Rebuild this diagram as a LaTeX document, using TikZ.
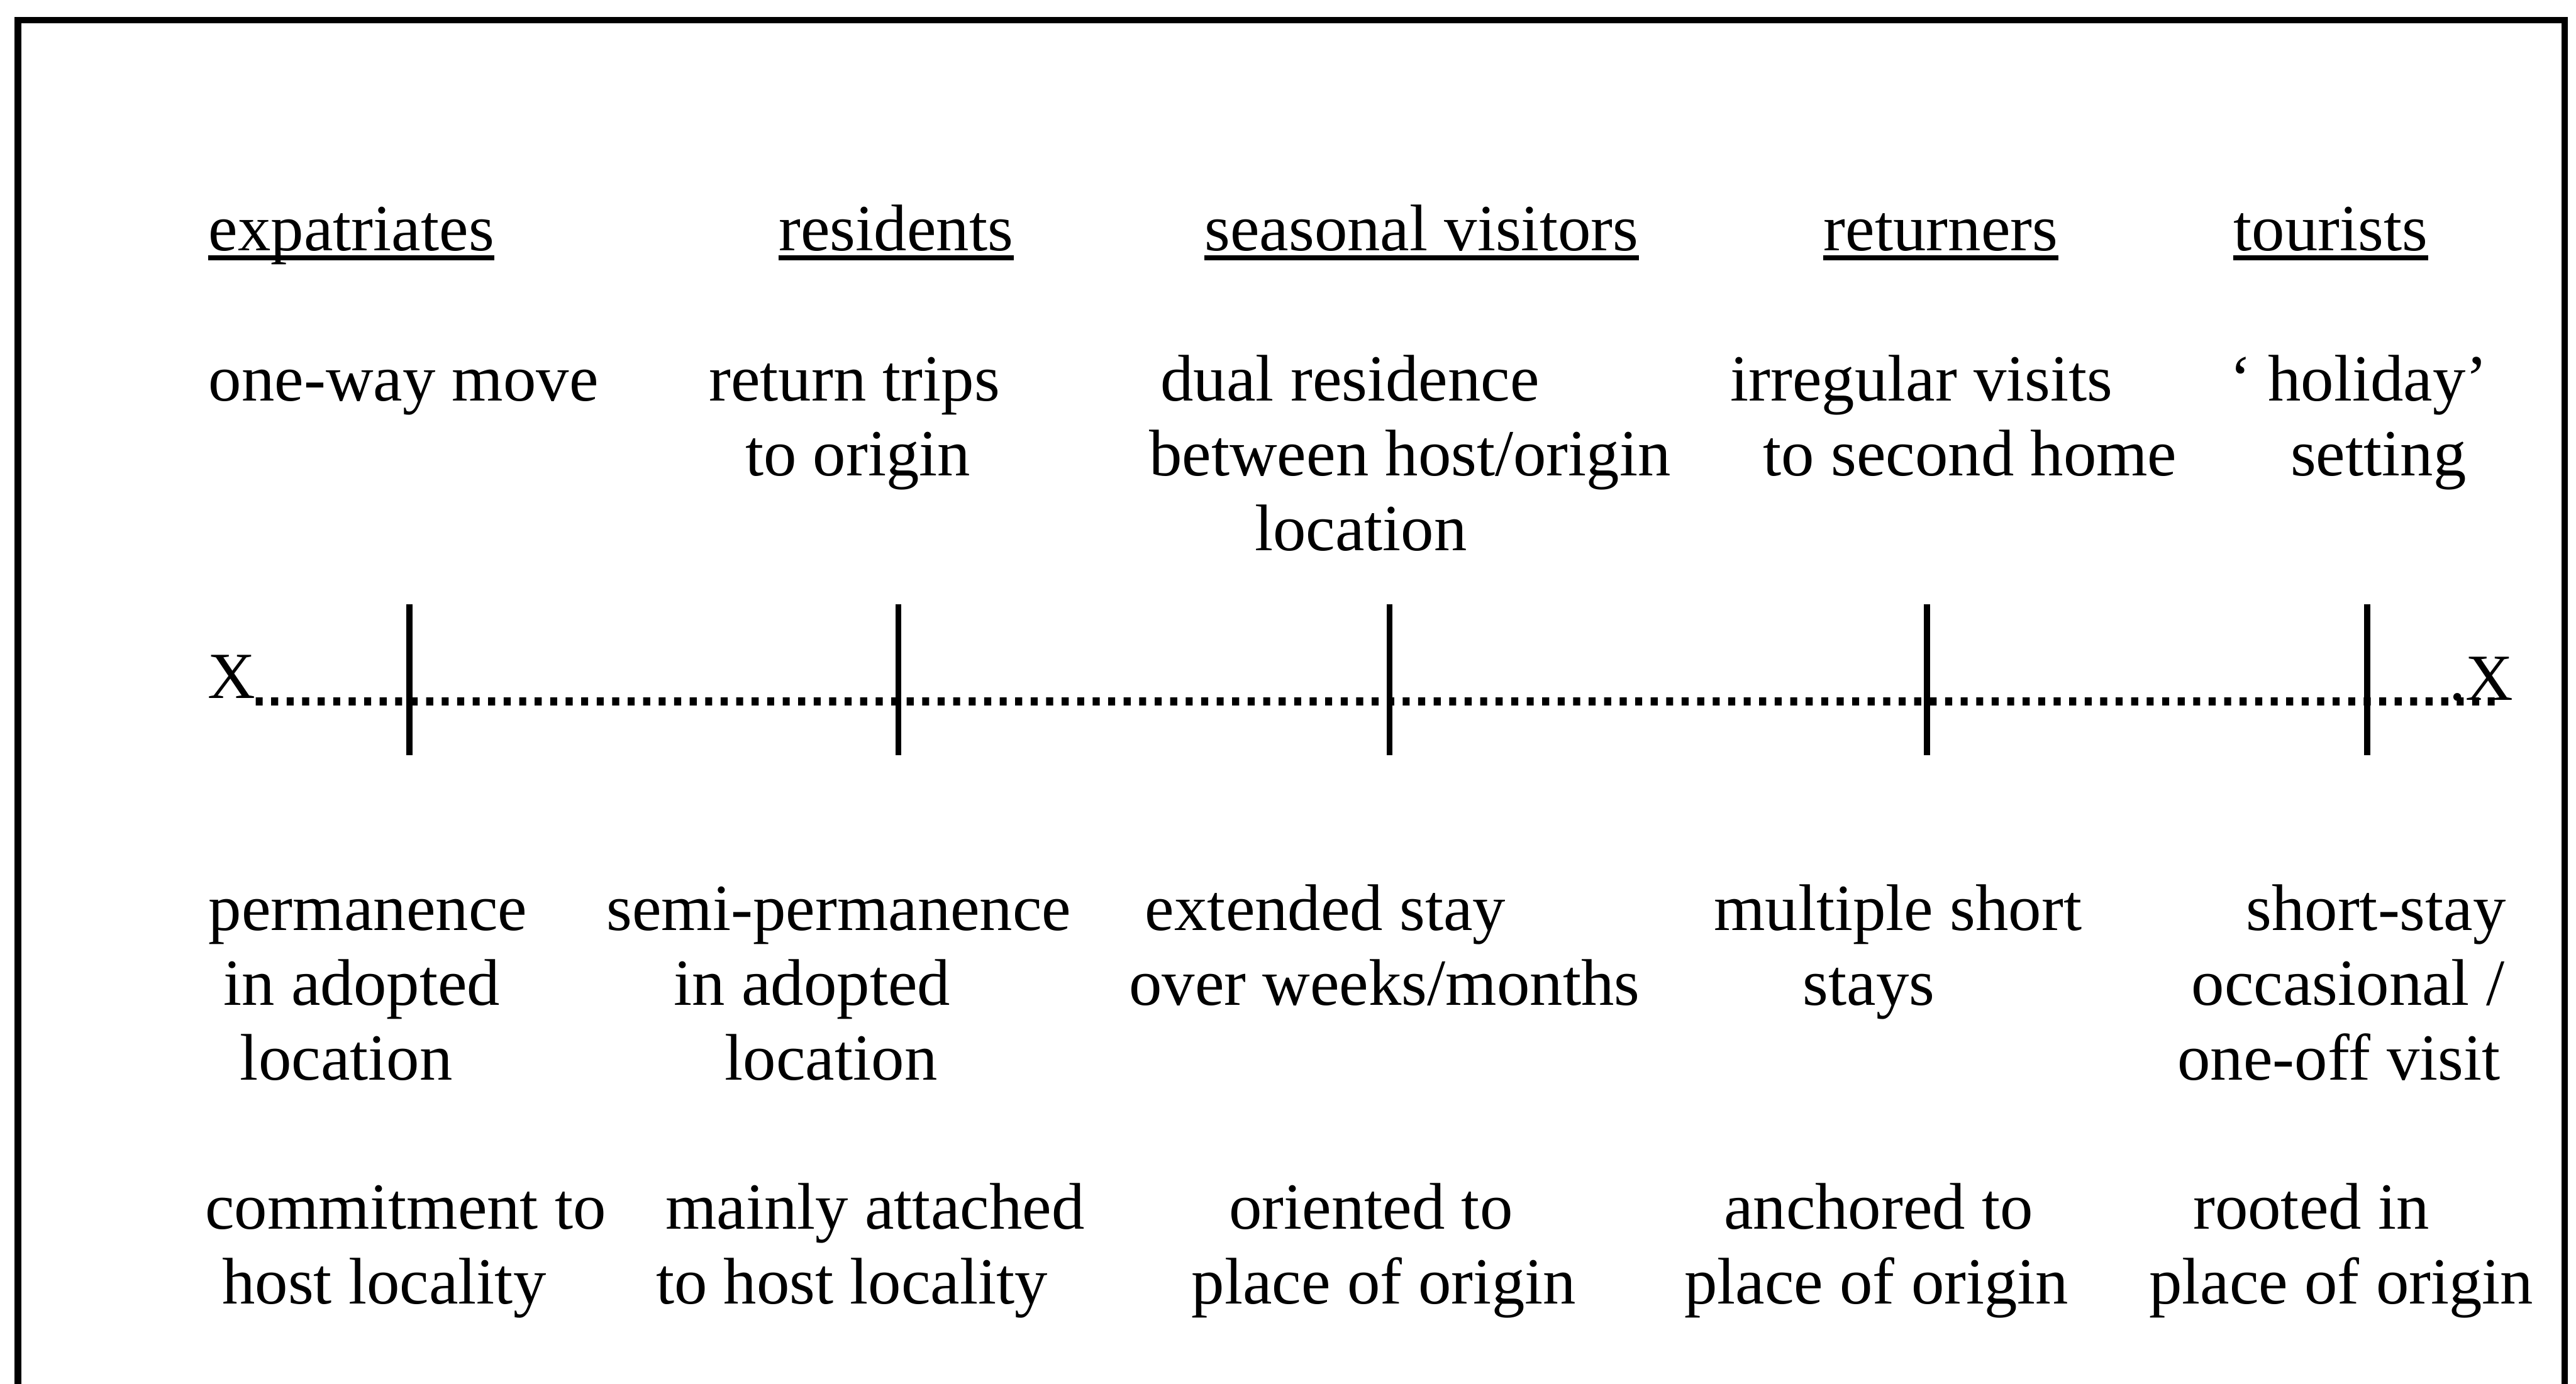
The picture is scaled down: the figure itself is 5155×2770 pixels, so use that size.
\documentclass[tikz,border=0pt]{standalone}
\usepackage{fontspec}
\setmainfont{Liberation Serif}
\usetikzlibrary{positioning}
\newcommand{\ind}[1]{\hspace*{#1}}

\begin{document}
\begin{tikzpicture}[x=0.01cm,y=-0.01cm,
    txt/.style={inner sep=0pt,anchor=base west,align=left,
      font=\fontsize{37.5}{42.6}\selectfont},
    uline/.style={line width=0.09cm},
    frame/.style={line width=0.13cm},
    tickline/.style={line width=0.12cm},
    axis/.style={line width=0.16cm,dash pattern=on 0.14cm off 0.17cm}]
  \useasboundingbox (0,0) rectangle (5155,2770);
  \draw[frame] (36,2770) -- (36,40) -- (5132,40) -- (5132,2770);
  % group headings
  \node[txt] (expat) at (417,502) {expatriates};
  \node[txt] (resid) at (1558,502) {residents};
  \node[txt] (seas) at (2410,502) {seasonal visitors};
  \node[txt] (ret) at (3649,502) {returners};
  \node[txt] (tour) at (4469,502) {tourists};
  \foreach \n in {expat,resid,seas,ret,tour}
    \draw[uline] ([yshift=-0.14cm]\n.base west) -- ([yshift=-0.14cm]\n.base east);
  % kind of move (base = last line)
  \node[txt] (expatmove) at (417,802) {one-way move};
  \node[txt] (residmove) at (1418,952) {return trips\\\ind{0.73cm}to origin};
  \node[txt] (seasmove) at (2299,1102) {\ind{0.23cm}dual residence\\between host/origin\\\ind{2.11cm}location};
  \node[txt] (retmove) at (3462,952) {irregular visits\\\ind{0.66cm}to second home};
  \node[txt] (tourmove) at (4461,952) {‘ holiday’\\\ind{1.22cm}setting};
  % the scale
  \node[txt] (xl) at (415,1397) {X};
  \node[txt] (xr) at (4900,1402) {.X};
  \draw[axis] ([yshift=-0.07cm]xl.base east) -- ([xshift=-0.3cm,yshift=-0.02cm]xr.base east);
  \foreach \x in {819,1798,2781,3856,4737}
    \draw[tickline] (\x,1210) -- (\x,1512);
  % length of stay
  \node[txt] (expatstay) at (417,2162) {permanence\\\ind{0.30cm}in adopted\\\ind{0.63cm}location};
  \node[txt] (residstay) at (1213,2162) {semi-permanence\\\ind{1.35cm}in adopted\\\ind{2.37cm}location};
  \node[txt] (seasstay) at (2259,2012) {\ind{0.32cm}extended stay\\over weeks/months};
  \node[txt] (retstay) at (3429,2012) {multiple short\\\ind{1.78cm}stays};
  \node[txt] (tourstay) at (4357,2162) {\ind{1.37cm}short-stay\\\ind{0.28cm}occasional /\\one-off visit};
  % attachment
  \node[txt] (expattie) at (410,2610) {commitment to\\\ind{0.34cm}host locality};
  \node[txt] (residtie) at (1312,2610) {\ind{0.19cm}mainly attached\\to host locality};
  \node[txt] (seastie) at (2384,2610) {\ind{0.75cm}oriented to\\place of origin};
  \node[txt] (rettie) at (3370,2610) {\ind{0.79cm}anchored to\\place of origin};
  \node[txt] (tourtie) at (4300,2610) {\ind{0.88cm}rooted in\\place of origin};
\end{tikzpicture}
\end{document}
